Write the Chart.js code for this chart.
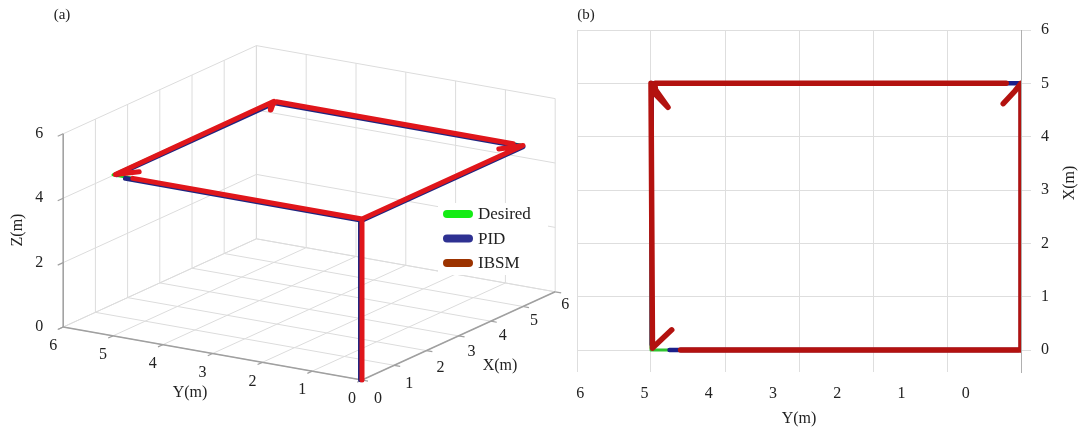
<!DOCTYPE html>
<html>
<head>
<meta charset="utf-8">
<script src="https://cdn.jsdelivr.net/npm/chart.js@4"></script>
<style>
html, body { margin: 0; padding: 0; background: #fff; }
#wrap { position: relative; width: 1083px; height: 431px; overflow: hidden; }
#c3d { position: absolute; left: 0; top: 0; }
#c2d { position: absolute; left: 572px; top: 0; }
</style>
</head>
<body>
<div id="wrap">
  <canvas id="c3d" width="600" height="431"></canvas>
  <canvas id="c2d" width="511" height="431"></canvas>
</div>
<script>
// trajectory samples in metres (null = break in the line)
const desiredX = [0, 0, 0, 5, 5, 0];
const desiredY = [0, 0, 5, 5, 0, 0];
const desiredZ = [0, 5, 5, 5, 5, 5];

const pidX = [0, 0, 0, null, 0.1, 5, 5, 0];
const pidY = [0.03, 0.03, 4.75, null, 4.99, 4.99, 0, 0];
const pidZ = [0, 4.96, 4.96, null, 4.96, 4.96, 4.96, 4.96];

const ibsmX = [0, 0, 0, null, 0.38, 0.04, 5, 4.55, 4.78, 5, 5, null, 4.62, 4.86, 5, 0];
const ibsmY = [0, 0, 4.6, null, 4.72, 4.98, 5, 4.77, 4.93, 4.95, 0.2, null, 0.24, 0.08, 0, 0];
const ibsmZ = [0, 5, 5, null, 5, 5, 5, 5, 5, 5, 5, null, 5, 5, 5, 5];

// axis ticks
const ticksXY = [0, 1, 2, 3, 4, 5, 6];
const ticksZ = [0, 2, 4, 6];
const seriesNames = ['Desired', 'PID', 'IBSM'];
const legendColors = ['#14ec14', '#2e3192', '#9c3300'];

const serif = '"Liberation Serif", "Times New Roman", serif';

// oblique view of the 3D box (canvas units per metre)
const view = { ox: 362, oy: 380, ex: [32.2, -14.7], ey: [-49.8, -8.83], ez: [0, -32.2] };

function proj(x, y, z) {
    return {
        x: view.ox + x * view.ex[0] + y * view.ey[0] + z * view.ez[0],
        y: view.oy + x * view.ex[1] + y * view.ey[1] + z * view.ez[1]
    };
}

function to3d(xs, ys, zs) {
    return xs.map((x, i) => x === null ? { x: null, y: null } : proj(x, ys[i], zs[i]));
}

// top view: horizontal = Y, vertical = X
function toTop(xs, ys) {
    return xs.map((x, i) => x === null ? { x: null, y: null } : { x: ys[i], y: x });
}

const lineDefaults = {
    showLine: true, pointRadius: 0, borderJoinStyle: 'round', borderCapStyle: 'round', tension: 0
};

// ---------- (a) 3D view ----------
const box3d = {
    id: 'box3d',
    beforeDatasetsDraw(chart) {
        const ctx = chart.ctx;
        const sx = chart.scales.x, sy = chart.scales.y;
        const P = (x, y, z) => {
            const p = proj(x, y, z);
            return [sx.getPixelForValue(p.x), sy.getPixelForValue(p.y)];
        };
        const seg = (a, b) => {
            ctx.beginPath();
            ctx.moveTo(a[0], a[1]);
            ctx.lineTo(b[0], b[1]);
            ctx.stroke();
        };
        const top = 6;
        ctx.save();
        ctx.strokeStyle = '#dcdcdc';
        ctx.lineWidth = 1;
        // floor
        ticksXY.forEach(v => {
            seg(P(v, 0, 0), P(v, top, 0));
            seg(P(0, v, 0), P(top, v, 0));
        });
        // wall Y = 6
        ticksXY.forEach(v => seg(P(v, top, 0), P(v, top, top)));
        ticksZ.forEach(v => seg(P(0, top, v), P(top, top, v)));
        // wall X = 6
        ticksXY.forEach(v => seg(P(top, v, 0), P(top, v, top)));
        ticksZ.forEach(v => seg(P(top, 0, v), P(top, top, v)));

        // axes
        ctx.strokeStyle = '#a0a0a0';
        ctx.lineWidth = 1.5;
        seg(P(0, top, 0), P(0, top, top));
        seg(P(0, 0, 0), P(0, top, 0));
        seg(P(0, 0, 0), P(top, 0, 0));
        ctx.lineWidth = 1.2;
        ticksZ.forEach(v => seg(P(0, top, v), P(-0.17, top, v)));
        ticksXY.forEach(v => seg(P(0, v, 0), P(-0.15, v, 0)));
        ticksXY.forEach(v => seg(P(v, 0, 0), P(v, -0.12, 0)));

        // tick labels
        ctx.fillStyle = '#222';
        ctx.font = '16px ' + serif;
        ctx.textAlign = 'center';
        ctx.textBaseline = 'middle';
        ticksZ.forEach(v => {
            const p = P(0, top, v);
            ctx.fillText(String(v), p[0] - 24, p[1]);
        });
        ticksXY.forEach(v => {
            const p = P(0, v, 0);
            ctx.fillText(String(v), p[0] - 10, p[1] + 19);
        });
        ticksXY.forEach(v => {
            const p = P(v, 0, 0);
            ctx.fillText(String(v), p[0] + 16 - v, p[1] + 19 - v);
        });

        // axis titles
        ctx.fillText('Y(m)', 190, 393);
        ctx.fillText('X(m)', 500, 366);
        ctx.save();
        ctx.translate(18, 230);
        ctx.rotate(-Math.PI / 2);
        ctx.fillText('Z(m)', 0, 0);
        ctx.restore();

        ctx.font = '15px ' + serif;
        ctx.fillText('(a)', 62, 15);
        ctx.restore();
    },
    afterDatasetsDraw(chart) {
        const ctx = chart.ctx;
        ctx.save();
        ctx.fillStyle = '#fff';
        ctx.fillRect(438, 203, 110, 72);
        ctx.font = '17px ' + serif;
        ctx.textAlign = 'left';
        ctx.textBaseline = 'middle';
        seriesNames.forEach((name, i) => {
            const y = 214 + i * 24.5;
            ctx.fillStyle = legendColors[i];
            ctx.beginPath();
            ctx.roundRect(443, y - 4, 30, 8, 4);
            ctx.fill();
            ctx.fillStyle = '#222';
            ctx.fillText(name, 478, y + 1);
        });
        ctx.restore();
    }
};

new Chart(document.getElementById('c3d'), {
    type: 'scatter',
    data: {
        datasets: [
            Object.assign({ label: 'IBSM', data: to3d(ibsmX, ibsmY, ibsmZ), borderColor: '#e0161b', borderWidth: 5, order: 0 }, lineDefaults),
            Object.assign({ label: 'PID', data: to3d(pidX, pidY, pidZ), borderColor: '#1f2580', borderWidth: 5, order: 1 }, lineDefaults),
            Object.assign({ label: 'Desired', data: to3d(desiredX, desiredY, desiredZ), borderColor: '#18e018', borderWidth: 3, order: 2 }, lineDefaults)
        ]
    },
    options: {
        responsive: false,
        animation: false,
        events: [],
        layout: { padding: 0 },
        plugins: { legend: { display: false }, tooltip: { enabled: false } },
        scales: {
            x: { type: 'linear', display: false, min: 0, max: 600 },
            y: { type: 'linear', display: false, min: 0, max: 431, reverse: true }
        }
    },
    plugins: [box3d]
});

// ---------- (b) top view ----------
const topLabels = {
    id: 'topLabels',
    afterDraw(chart) {
        const ctx = chart.ctx;
        ctx.save();
        ctx.fillStyle = '#222';
        ctx.textAlign = 'center';
        ctx.textBaseline = 'middle';
        ctx.font = '15px ' + serif;
        ctx.fillText('(b)', 14, 15);
        ctx.font = '16px ' + serif;
        ctx.translate(chart.chartArea.right + 49, (chart.chartArea.top + chart.chartArea.bottom) / 2 - 18);
        ctx.rotate(-Math.PI / 2);
        ctx.fillText('X(m)', 0, 0);
        ctx.restore();
    }
};

const tickFont = { family: serif, size: 16 };
const setTicks = s => { s.ticks = ticksXY.map(v => ({ value: v })); };

new Chart(document.getElementById('c2d'), {
    type: 'scatter',
    data: {
        datasets: [
            Object.assign({ label: 'IBSM', data: toTop(ibsmX, ibsmY), borderColor: '#b3120f', borderWidth: 5.5, order: 0 }, lineDefaults),
            Object.assign({ label: 'PID', data: toTop(pidX, pidY), borderColor: '#1b1f8a', borderWidth: 4.5, order: 1 }, lineDefaults),
            Object.assign({ label: 'Desired', data: toTop(desiredX, desiredY), borderColor: '#2fc42f', borderWidth: 3, order: 2 }, lineDefaults)
        ]
    },
    options: {
        responsive: false,
        animation: false,
        events: [],
        layout: { padding: { left: 5, top: 30, right: 0, bottom: 0 } },
        plugins: { legend: { display: false }, tooltip: { enabled: false } },
        scales: {
            x: {
                type: 'linear', min: 0, max: 6, reverse: true, position: 'bottom',
                grid: { color: '#dedede', drawTicks: false },
                border: { display: false },
                ticks: { display: false },
                afterBuildTicks: setTicks,
                afterFit: s => { s.height = 0; }
            },
            x2: {
                type: 'linear', min: -0.86, max: 6.05, reverse: true, position: 'bottom',
                grid: { display: false, drawTicks: false },
                border: { display: false },
                ticks: { font: tickFont, color: '#222', padding: 12, maxRotation: 0 },
                afterBuildTicks: setTicks,
                title: { display: true, text: 'Y(m)', font: tickFont, color: '#222', padding: { top: 0, bottom: 3 } },
                afterFit: s => { s.height = 59; }
            },
            y: {
                type: 'linear', min: -0.41, max: 6, position: 'right',
                grid: { color: '#dedede', tickLength: 10 },
                border: { color: '#b0b0b0' },
                ticks: { font: tickFont, color: '#222', padding: 10 },
                afterBuildTicks: setTicks,
                afterFit: s => { s.width = 62; }
            }
        }
    },
    plugins: [topLabels]
});
</script>
</body>
</html>
